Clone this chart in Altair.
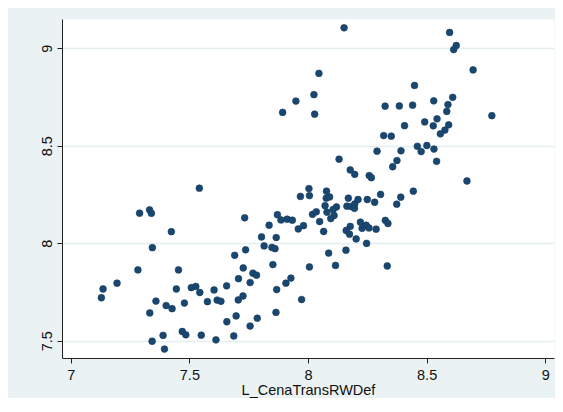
import altair as alt
import pandas as pd

# Values (x = L_CenaTransRWDef, y = unnamed variable)
x_left = [7.542, 7.290, 7.332, 7.340, 7.424, 7.344, 7.283, 7.454, 7.195, 7.136, 7.129,
          7.445, 7.508, 7.527, 7.544, 7.604, 7.657, 7.359, 7.402, 7.427, 7.479, 7.576,
          7.617, 7.633, 7.333, 7.658, 7.389, 7.343, 7.395, 7.470, 7.485, 7.550, 7.612]
y_left = [8.282, 8.154, 8.171, 8.153, 8.059, 7.977, 7.863, 7.863, 7.795, 7.765, 7.720,
          7.765, 7.772, 7.778, 7.747, 7.760, 7.781, 7.703, 7.680, 7.664, 7.693, 7.700,
          7.708, 7.702, 7.642, 7.597, 7.527, 7.497, 7.457, 7.547, 7.530, 7.528, 7.504]

x_mid = [8.046, 8.025, 7.949, 7.893, 8.028, 8.152, 8.325, 8.319, 8.351, 8.291, 8.131,
         8.178, 8.197, 8.258, 8.267, 8.004, 7.968, 8.006, 8.078, 8.077, 8.091, 8.072,
         8.120, 8.106, 8.080, 8.110, 8.096, 8.049, 8.066, 8.019, 8.035, 7.981, 7.959,
         7.871, 7.886, 7.912, 7.934, 7.836, 7.733, 7.804, 7.866, 7.815, 7.848, 7.861,
         7.737, 7.691, 7.852, 7.727, 7.768, 7.783, 7.707, 7.756, 7.928, 7.907, 7.868,
         8.006, 8.087, 8.116, 8.160, 7.973, 7.726, 7.706, 7.865, 7.786, 7.697, 7.756,
         7.687, 8.334]
y_mid = [8.871, 8.762, 8.729, 8.671, 8.662, 9.105, 8.703, 8.552, 8.549, 8.472, 8.431,
         8.376, 8.353, 8.347, 8.336, 8.280, 8.240, 8.244, 8.267, 8.231, 8.237, 8.192,
         8.186, 8.173, 8.159, 8.142, 8.126, 8.111, 8.060, 8.148, 8.161, 8.090, 8.073,
         8.146, 8.119, 8.123, 8.118, 8.092, 8.130, 8.032, 8.029, 7.986, 7.978, 7.972,
         7.966, 7.938, 7.890, 7.873, 7.846, 7.836, 7.818, 7.798, 7.821, 7.795, 7.762,
         7.878, 7.949, 7.886, 7.964, 7.711, 7.729, 7.709, 7.645, 7.615, 7.627, 7.575,
         7.524, 7.883]

x_cluster = [8.170, 8.164, 8.182, 8.196, 8.197, 8.211, 8.250, 8.281, 8.306, 8.374, 8.391,
             8.444, 8.326, 8.337, 8.221, 8.228, 8.245, 8.257, 8.287, 8.178, 8.161, 8.175,
             8.203, 8.247]
y_cluster = [8.231, 8.190, 8.188, 8.179, 8.201, 8.224, 8.224, 8.210, 8.250, 8.200, 8.236,
             8.267, 8.117, 8.101, 8.108, 8.076, 8.092, 8.078, 8.072, 8.086, 8.065, 8.046,
             8.022, 7.999]

x_right = [8.597, 8.625, 8.614, 8.696, 8.449, 8.530, 8.610, 8.590, 8.385, 8.441, 8.585,
           8.775, 8.544, 8.492, 8.407, 8.528, 8.593, 8.577, 8.558, 8.461, 8.501, 8.477,
           8.531, 8.392, 8.375, 8.357, 8.542, 8.670]
y_right = [9.081, 9.014, 8.993, 8.889, 8.809, 8.730, 8.748, 8.711, 8.704, 8.708, 8.676,
           8.654, 8.638, 8.622, 8.603, 8.602, 8.607, 8.580, 8.561, 8.497, 8.501, 8.470,
           8.483, 8.474, 8.424, 8.392, 8.420, 8.319]

x_ticks = [7, 7.5, 8, 8.5, 9]
y_ticks = [7.5, 8, 8.5, 9]

df = pd.DataFrame({
    "L_CenaTransRWDef": x_left + x_mid + x_cluster + x_right,
    "yvar": y_left + y_mid + y_cluster + y_right,
})

FONT = "Liberation Sans"
BG = "#EAF2F3"

chart = alt.Chart(df).mark_circle(
    size=46, color="#1a476f", opacity=1, stroke="#163d60", strokeWidth=0.6
).encode(
    x=alt.X("L_CenaTransRWDef:Q",
            scale=alt.Scale(domain=[6.963, 9.037], nice=False, zero=False),
            axis=alt.Axis(values=x_ticks, format="~g", grid=False,
                          title="L_CenaTransRWDef",
                          domainColor="#222", tickColor="#222", tickSize=5,
                          labelFont=FONT, labelFontSize=14.5, labelColor="#111",
                          labelPadding=5,
                          titleFont=FONT, titleFontSize=14.5, titleFontWeight="normal",
                          titleColor="#111", titlePadding=2)),
    y=alt.Y("yvar:Q",
            scale=alt.Scale(domain=[7.411, 9.150], nice=False, zero=False),
            axis=alt.Axis(values=y_ticks, format="~g", grid=True, gridColor="#E4EDEF",
                          gridWidth=1.5, title=None,
                          domainColor="#222", tickColor="#222", tickSize=5,
                          labelFont=FONT, labelFontSize=14.5, labelColor="#111",
                          labelAngle=270, labelAlign="center", labelBaseline="bottom",
                          labelPadding=3)),
).properties(
    width=492, height=339,
    autosize=alt.AutoSizeParams(type="none"),
    padding={"left": 54, "top": 11, "right": 1, "bottom": 40},
    background=BG,
).configure_view(fill="white", strokeOpacity=0)

chart.save("out.html", embed_options={"renderer": "svg", "actions": False})
